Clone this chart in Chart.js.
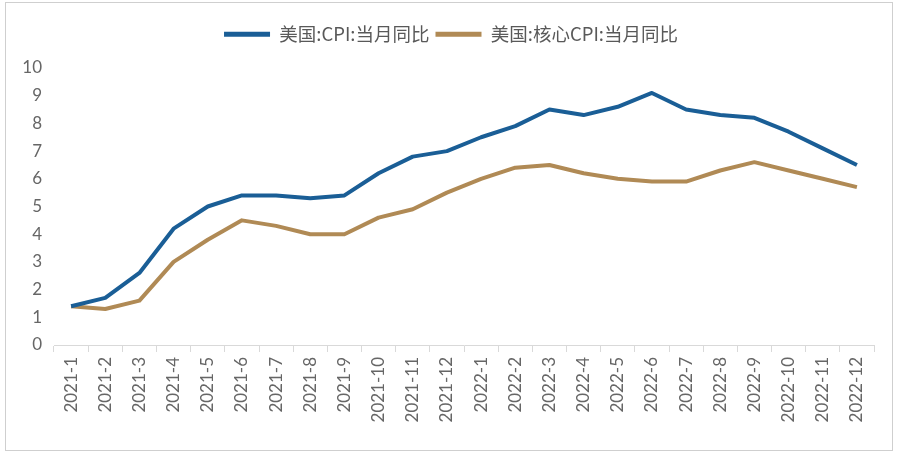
<!DOCTYPE html>
<html>
<head>
<meta charset="utf-8">
<script src="https://cdn.jsdelivr.net/npm/chart.js@4/dist/chart.umd.min.js"></script>
<style>
  html, body { margin: 0; padding: 0; background: #fff; }
  #wrap { position: relative; width: 900px; height: 455px; }
  #frame { position: absolute; left: 5px; top: 2px; width: 886px; height: 447px; border: 1px solid #cfcfcf; }
  canvas { position: absolute; left: 0; top: 0; }
</style>
</head>
<body>
<div id="wrap">
  <div id="frame"></div>
  <canvas id="c" width="900" height="455"></canvas>
</div>
<script>
const categories = ["2021-1","2021-2","2021-3","2021-4","2021-5","2021-6","2021-7","2021-8","2021-9","2021-10","2021-11","2021-12",
                    "2022-1","2022-2","2022-3","2022-4","2022-5","2022-6","2022-7","2022-8","2022-9","2022-10","2022-11","2022-12"];
const cpi  = [1.4, 1.7, 2.6, 4.2, 5.0, 5.4, 5.4, 5.3, 5.4, 6.2, 6.8, 7.0, 7.5, 7.9, 8.5, 8.3, 8.6, 9.1, 8.5, 8.3, 8.2, 7.7, 7.1, 6.5];
const core = [1.4, 1.3, 1.6, 3.0, 3.8, 4.5, 4.3, 4.0, 4.0, 4.6, 4.9, 5.5, 6.0, 6.4, 6.5, 6.2, 6.0, 5.9, 5.9, 6.3, 6.6, 6.3, 6.0, 5.7];
const seriesNames = ["美国:CPI:当月同比", "美国:核心CPI:当月同比"];
const yTicks = [0,1,2,3,4,5,6,7,8,9,10];

const FONT = "'Noto Sans CJK SC', Lato, 'Noto Sans', sans-serif";
const legendTweak = {
  id: 'legendTweak',
  beforeInit(chart) {
    const orig = chart.legend.fit;
    chart.legend.fit = function () {
      orig.bind(chart.legend)();
      this.height = 49;
    };
  },
  afterLayout(chart) {
    chart.legend.left += 14;
    chart.legend.right += 14;
  }
};

new Chart(document.getElementById('c'), {
  type: 'line',
  data: {
    labels: categories,
    datasets: [
      { label: seriesNames[0], data: cpi, borderColor: '#1a5e96', backgroundColor: '#1a5e96',
        borderWidth: 4, pointRadius: 0, tension: 0, borderJoinStyle: 'round' },
      { label: seriesNames[1], data: core, borderColor: '#b08a55', backgroundColor: '#b08a55',
        borderWidth: 4, pointRadius: 0, tension: 0, borderJoinStyle: 'round' }
    ]
  },
  options: {
    responsive: false,
    animation: false,
    layout: { padding: { left: 0, right: 26, top: 19, bottom: 0 } },
    plugins: {
      legend: {
        position: 'top',
        labels: {
          boxWidth: 46, boxHeight: 5, padding: 6,
          color: '#595959',
          font: { family: FONT, size: 18.5 },
          generateLabels(chart) {
            return chart.data.datasets.map((d, i) => ({
              text: d.label, fillStyle: d.borderColor, strokeStyle: d.borderColor,
              lineWidth: 0, hidden: false, datasetIndex: i, fontColor: '#595959'
            }));
          }
        }
      },
      tooltip: { enabled: false }
    },
    scales: {
      x: {
        offset: true,
        grid: { offset: true, drawOnChartArea: false, drawTicks: true, tickLength: 7, color: '#d9d9d9' },
        border: { display: true, color: '#d9d9d9', width: 1 },
        ticks: { minRotation: 90, maxRotation: 90, autoSkip: false, padding: 5, color: '#666666',
                 font: { family: "Lato, 'Noto Sans', sans-serif", size: 17 } },
        afterFit(scale) { scale.height = 110; }
      },
      y: {
        min: 0, max: 10,
        afterBuildTicks(scale) { scale.ticks = yTicks.map(v => ({ value: v })); },
        grid: { display: false, drawTicks: false },
        border: { display: false },
        ticks: { padding: 12, color: '#666666', font: { family: "Lato, 'Noto Sans', sans-serif", size: 17 } },
        afterFit(scale) { scale.width = 54; }
      }
    }
  },
  plugins: [legendTweak]
});
</script>
</body>
</html>
